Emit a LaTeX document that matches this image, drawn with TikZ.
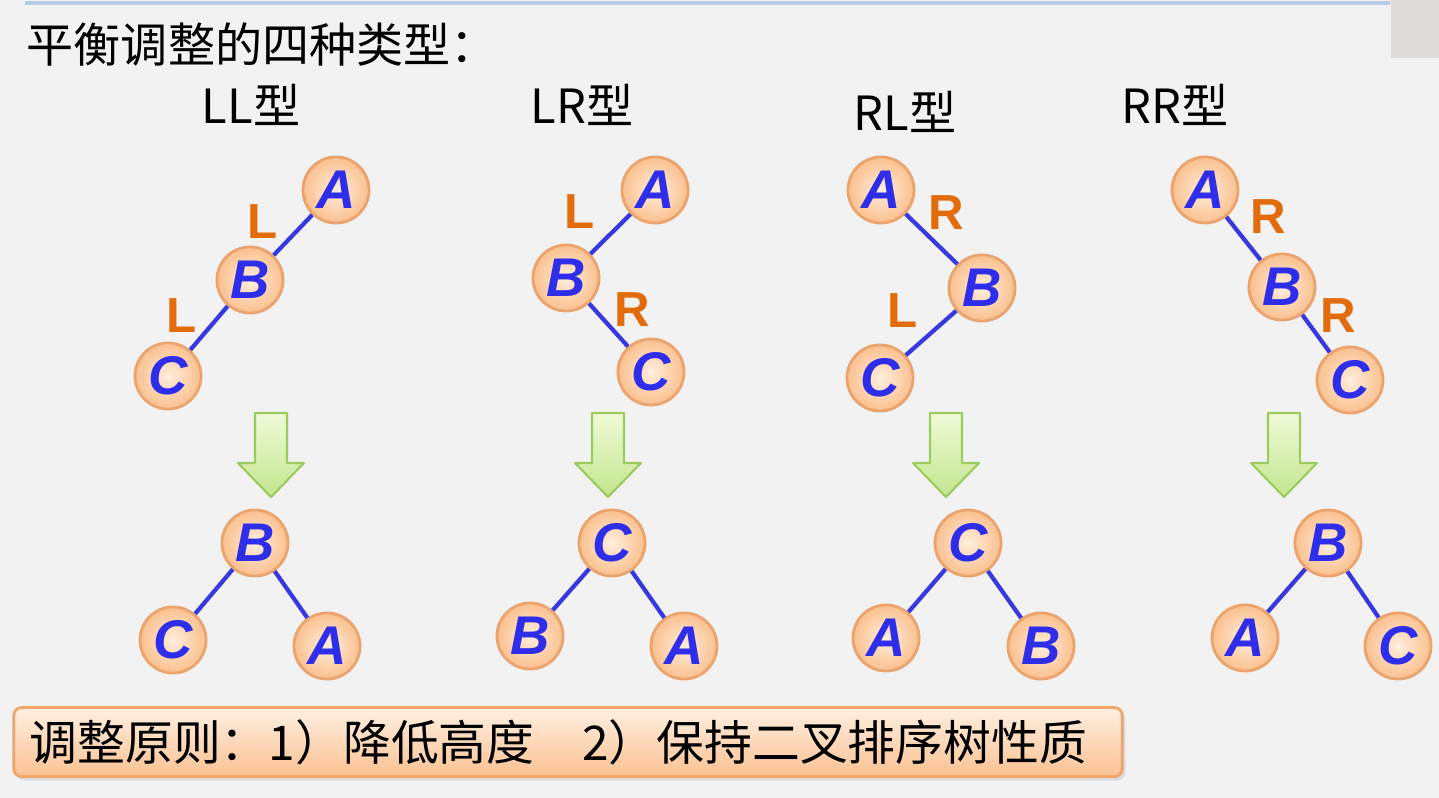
\documentclass[tikz,border=0pt]{standalone}
\usepackage{fontspec}
\setmainfont{Noto Sans CJK SC}
\newfontfamily\letterfont{Liberation Sans}
\usetikzlibrary{shadows}

% colours taken from the slide
\definecolor{bgGray}{HTML}{F2F2F2}
\definecolor{ruleBlue}{HTML}{B9CBE4}
\definecolor{cornerGray}{HTML}{DEDCD9}
\definecolor{nodeInner}{HTML}{FFEEDD}
\definecolor{nodeOuter}{HTML}{FAC08E}
\definecolor{nodeBorder}{HTML}{EBA46E}
\definecolor{letterBlue}{HTML}{2E2EEA}
\definecolor{edgeBlue}{HTML}{3838E0}
\definecolor{dirOrange}{HTML}{E36C0A}
\definecolor{arrowTop}{HTML}{EFFAD8}
\definecolor{arrowBottom}{HTML}{C3E68E}
\definecolor{arrowBorder}{HTML}{9CCB5E}
\definecolor{boxTop}{HTML}{FEEFE2}
\definecolor{boxBottom}{HTML}{FBC292}
\definecolor{boxBorder}{HTML}{F0A468}

\tikzset{
  treenode/.style={circle, draw=nodeBorder, line width=0.8pt,
    inner color=nodeInner, outer color=nodeOuter,
    minimum size=0.66cm, inner sep=0pt, text=letterBlue,
    font=\letterfont\bfseries\itshape\fontsize{15.5pt}{15.5pt}\selectfont},
  treeedge/.style={draw=edgeBlue, line width=1.2pt},
  dirlabel/.style={text=dirOrange, inner sep=0pt,
    font=\letterfont\bfseries\fontsize{14pt}{14pt}\selectfont},
  typelabel/.style={inner sep=0pt, font=\fontsize{13.4pt}{13.4pt}\selectfont},
  downarrow/.style={draw=arrowBorder, line width=0.6pt, line join=round,
    top color=arrowTop, bottom color=arrowBottom},
}

\begin{document}
\begin{tikzpicture}[x=0.01cm, y=-0.01cm]
  % background of the slide
  \useasboundingbox (0,0) rectangle (1439,798);
  \fill[bgGray] (0,0) rectangle (1439,798);
  \fill[cornerGray] (1391,0) rectangle (1439,58);
  \draw[ruleBlue, line width=1.2pt] (25,3) -- (1390,3);

  % title
  \node[anchor=west, inner sep=0pt, font=\fontsize{13.4pt}{13.4pt}\selectfont] (title) at (26,45) {平衡调整的四种类型：};

  % type labels
  \node[typelabel] (typeLL) at (251,105) {LL型};
  \node[typelabel] (typeLR) at (582,105) {LR型};
  \node[typelabel] (typeRL) at (905,112) {RL型};
  \node[typelabel] (typeRR) at (1175,105) {RR型};

  % LL type, before
  \node[treenode] (llA) at (336,190) {A};
  \node[treenode] (llB) at (250,280) {B};
  \node[treenode] (llC) at (168,376) {C};
  \draw[treeedge] (llA) -- (llB);
  \draw[treeedge] (llB) -- (llC);
  \node[dirlabel] (llL1) at (263,222) {L};
  \node[dirlabel] (llL2) at (182,316) {L};

  % LR type, before
  \node[treenode] (lrA) at (655,190) {A};
  \node[treenode] (lrB) at (566,278) {B};
  \node[treenode] (lrC) at (651,372) {C};
  \draw[treeedge] (lrA) -- (lrB);
  \draw[treeedge] (lrB) -- (lrC);
  \node[dirlabel] (lrL) at (580,212) {L};
  \node[dirlabel] (lrR) at (632,310) {R};

  % RL type, before
  \node[treenode] (rlA) at (881,190) {A};
  \node[treenode] (rlB) at (982,288) {B};
  \node[treenode] (rlC) at (880,378) {C};
  \draw[treeedge] (rlA) -- (rlB);
  \draw[treeedge] (rlB) -- (rlC);
  \node[dirlabel] (rlR) at (946,213) {R};
  \node[dirlabel] (rlL) at (903,311) {L};

  % RR type, before
  \node[treenode] (rrA) at (1205,190) {A};
  \node[treenode] (rrB) at (1282,287) {B};
  \node[treenode] (rrC) at (1350,380) {C};
  \draw[treeedge] (rrA) -- (rrB);
  \draw[treeedge] (rrB) -- (rrC);
  \node[dirlabel] (rrR1) at (1268,217) {R};
  \node[dirlabel] (rrR2) at (1338,316) {R};

  % green arrows
  \foreach \cx in {271,608,946,1284}
    \draw[downarrow] ({\cx-16},413) -- ({\cx+16},413) -- ({\cx+16},463)
      -- ({\cx+33},463) -- (\cx,497) -- ({\cx-33},463) -- ({\cx-16},463) -- cycle;

  % LL type, after
  \node[treenode] (llB2) at (255,543) {B};
  \node[treenode] (llC2) at (173,640) {C};
  \node[treenode] (llA2) at (327,646) {A};
  \draw[treeedge] (llB2) -- (llC2);
  \draw[treeedge] (llB2) -- (llA2);

  % LR type, after
  \node[treenode] (lrC2) at (612,543) {C};
  \node[treenode] (lrB2) at (530,636) {B};
  \node[treenode] (lrA2) at (684,646) {A};
  \draw[treeedge] (lrC2) -- (lrB2);
  \draw[treeedge] (lrC2) -- (lrA2);

  % RL type, after
  \node[treenode] (rlC2) at (968,543) {C};
  \node[treenode] (rlA2) at (886,638) {A};
  \node[treenode] (rlB2) at (1041,646) {B};
  \draw[treeedge] (rlC2) -- (rlA2);
  \draw[treeedge] (rlC2) -- (rlB2);

  % RR type, after
  \node[treenode] (rrB2) at (1328,543) {B};
  \node[treenode] (rrA2) at (1245,638) {A};
  \node[treenode] (rrC2) at (1398,646) {C};
  \draw[treeedge] (rrB2) -- (rrA2);
  \draw[treeedge] (rrB2) -- (rrC2);

  % principle box
  \node[draw=boxBorder, line width=0.8pt, rounded corners=0.08cm,
    top color=boxTop, bottom color=boxBottom,
    drop shadow={opacity=0.2, shadow xshift=0.03cm, shadow yshift=-0.04cm},
    minimum width=11.08cm, minimum height=0.69cm, inner xsep=0.16cm, inner ysep=0pt,
    text width=10.76cm, align=left, font=\fontsize{13.6pt}{13.6pt}\selectfont]
    (rule) at (568,742) {调整原则：1）降低高度\quad 2）保持二叉排序树性质};
\end{tikzpicture}
\end{document}
